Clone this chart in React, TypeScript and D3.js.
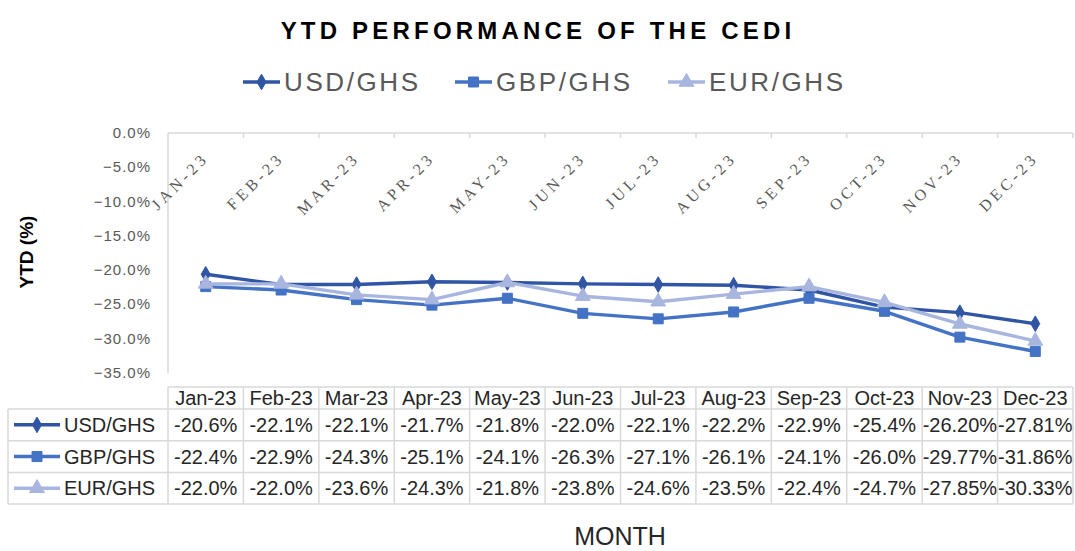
import * as d3 from 'd3'

const months = ['Jan-23', 'Feb-23', 'Mar-23', 'Apr-23', 'May-23', 'Jun-23', 'Jul-23', 'Aug-23', 'Sep-23', 'Oct-23', 'Nov-23', 'Dec-23']
const usd = [-20.6, -22.1, -22.1, -21.7, -21.8, -22.0, -22.1, -22.2, -22.9, -25.4, -26.2, -27.81]
const gbp = [-22.4, -22.9, -24.3, -25.1, -24.1, -26.3, -27.1, -26.1, -24.1, -26.0, -29.77, -31.86]
const eur = [-22.0, -22.0, -23.6, -24.3, -21.8, -23.8, -24.6, -23.5, -22.4, -24.7, -27.85, -30.33]
const usdLabels = ['-20.6%', '-22.1%', '-22.1%', '-21.7%', '-21.8%', '-22.0%', '-22.1%', '-22.2%', '-22.9%', '-25.4%', '-26.20%', '-27.81%']
const gbpLabels = ['-22.4%', '-22.9%', '-24.3%', '-25.1%', '-24.1%', '-26.3%', '-27.1%', '-26.1%', '-24.1%', '-26.0%', '-29.77%', '-31.86%']
const eurLabels = ['-22.0%', '-22.0%', '-23.6%', '-24.3%', '-21.8%', '-23.8%', '-24.6%', '-23.5%', '-22.4%', '-24.7%', '-27.85%', '-30.33%']
const yTicks = [0, -5, -10, -15, -20, -25, -30, -35]

const series = [
  { name: 'USD/GHS', values: usd, labels: usdLabels, color: '#2F55A4', shape: 'diamond' },
  { name: 'GBP/GHS', values: gbp, labels: gbpLabels, color: '#4472C4', shape: 'square' },
  { name: 'EUR/GHS', values: eur, labels: eurLabels, color: '#A8B6DF', shape: 'triangle' },
]

const W = 1075
const H = 551
const left = 168
const right = 1073
const top = 133
const bottom = 373

const x = d3.scaleBand().domain(months).range([left, right])
const y = d3.scaleLinear().domain([0, -35]).range([top, bottom])

const symbolFor = (shape: string) => {
  if (shape === 'diamond') return d3.symbol(d3.symbolDiamond, 70)()
  if (shape === 'square') return d3.symbol(d3.symbolSquare, 100)()
  return d3.symbol(d3.symbolTriangle, 95)()
}

function Marker({ shape, color, cx, cy }: any) {
  return <path d={symbolFor(shape) || ''} transform={`translate(${cx},${cy})`} fill={color} stroke={color} strokeWidth={1} />
}

const tableTop = 387
const headerH = 22
const rowH = 31.7
const grid = '#D9D9D9'

export default function App() {
  const line = d3.line<number>().x((_, i) => (x(months[i]) || 0) + x.bandwidth() / 2).y(d => y(d))
  const legendX = [243, 455, 668]

  return (
    <svg width={W} height={H} style={{ position: 'absolute', left: 0, top: 0, background: '#fff' }}>
      <text x={538} y={39} textAnchor="middle" fontFamily="Liberation Sans, Arial, sans-serif" fontWeight="bold" fontSize={24} letterSpacing={4.2} fill="#000">
        YTD PERFORMANCE OF THE CEDI
      </text>

      {series.map((s, i) => (
        <g key={s.name}>
          <line x1={legendX[i]} x2={legendX[i] + 37} y1={82} y2={82} stroke={s.color} strokeWidth={3.5} />
          <Marker shape={s.shape} color={s.color} cx={legendX[i] + 18.5} cy={82} />
          <text x={legendX[i] + 41} y={91} fontFamily="Liberation Sans, Arial, sans-serif" fontSize={26} letterSpacing={2.6} fill="#595959">{s.name}</text>
        </g>
      ))}

      {/* axes */}
      <line x1={left} x2={right} y1={top} y2={top} stroke={grid} strokeWidth={1.5} />
      <line x1={left} x2={left} y1={top} y2={bottom} stroke={grid} strokeWidth={1.5} />
      {months.map(m => (
        <line key={'t' + m} x1={(x(m) || 0) + x.bandwidth()} x2={(x(m) || 0) + x.bandwidth()} y1={top} y2={top + 5} stroke={grid} strokeWidth={1.5} />
      ))}
      {yTicks.map(t => (
        <text key={t} x={151} y={y(t) + 5} textAnchor="end" fontFamily="Liberation Sans, Arial, sans-serif" fontSize={15} letterSpacing={1} fill="#595959">
          {d3.format('.1f')(t) + '%'}
        </text>
      ))}
      {months.map(m => (
        <text
          key={'c' + m}
          transform={`translate(${(x(m) || 0) + x.bandwidth() / 2 + 4},${top + 26}) rotate(-45)`}
          textAnchor="end"
          fontFamily="Liberation Serif, Cambria, serif"
          fontSize={16}
          letterSpacing={3.8}
          fill="#595959"
        >
          {m.toUpperCase()}
        </text>
      ))}

      <text transform={`translate(33,252) rotate(-90)`} textAnchor="middle" fontFamily="Liberation Sans, Arial, sans-serif" fontWeight="bold" fontSize={19} fill="#000">
        YTD (%)
      </text>

      {series.map(s => (
        <g key={'s' + s.name}>
          <path d={line(s.values) || ''} fill="none" stroke={s.color} strokeWidth={3.4} strokeLinejoin="round" />
          {s.values.map((v, i) => (
            <Marker key={i} shape={s.shape} color={s.color} cx={(x(months[i]) || 0) + x.bandwidth() / 2} cy={y(v)} />
          ))}
        </g>
      ))}

      {/* data table */}
      <g fontFamily="Liberation Sans, Arial, sans-serif" fontSize={20} fill="#262626">
        <line x1={left} x2={right} y1={tableTop} y2={tableTop} stroke={grid} strokeWidth={1.5} />
        {[0, 1, 2, 3].map(r => (
          <line key={'h' + r} x1={8} x2={right} y1={tableTop + headerH + r * rowH} y2={tableTop + headerH + r * rowH} stroke={grid} strokeWidth={1.5} />
        ))}
        <line x1={8} x2={8} y1={tableTop + headerH} y2={tableTop + headerH + 3 * rowH} stroke={grid} strokeWidth={1.5} />
        {[...months.map(m => x(m) || 0), right].map((cx, i) => (
          <line key={'v' + i} x1={cx} x2={cx} y1={tableTop} y2={tableTop + headerH + 3 * rowH} stroke={grid} strokeWidth={1.5} />
        ))}
        {months.map(m => (
          <text key={'hd' + m} x={(x(m) || 0) + x.bandwidth() / 2} y={tableTop + 18} textAnchor="middle">{m}</text>
        ))}
        {series.map((s, r) => {
          const cy = tableTop + headerH + r * rowH + rowH / 2
          return (
            <g key={'r' + s.name}>
              <line x1={14} x2={60} y1={cy} y2={cy} stroke={s.color} strokeWidth={3.5} />
              <Marker shape={s.shape} color={s.color} cx={37} cy={cy} />
              <text x={64} y={cy + 7}>{s.name}</text>
              {s.labels.map((l, i) => (
                <text key={i} x={(x(months[i]) || 0) + x.bandwidth() / 2} y={cy + 7} textAnchor="middle">{l}</text>
              ))}
            </g>
          )
        })}
      </g>

      <text x={620} y={545} textAnchor="middle" fontFamily="Liberation Sans, Arial, sans-serif" fontSize={25} fill="#262626">MONTH</text>
    </svg>
  )
}
